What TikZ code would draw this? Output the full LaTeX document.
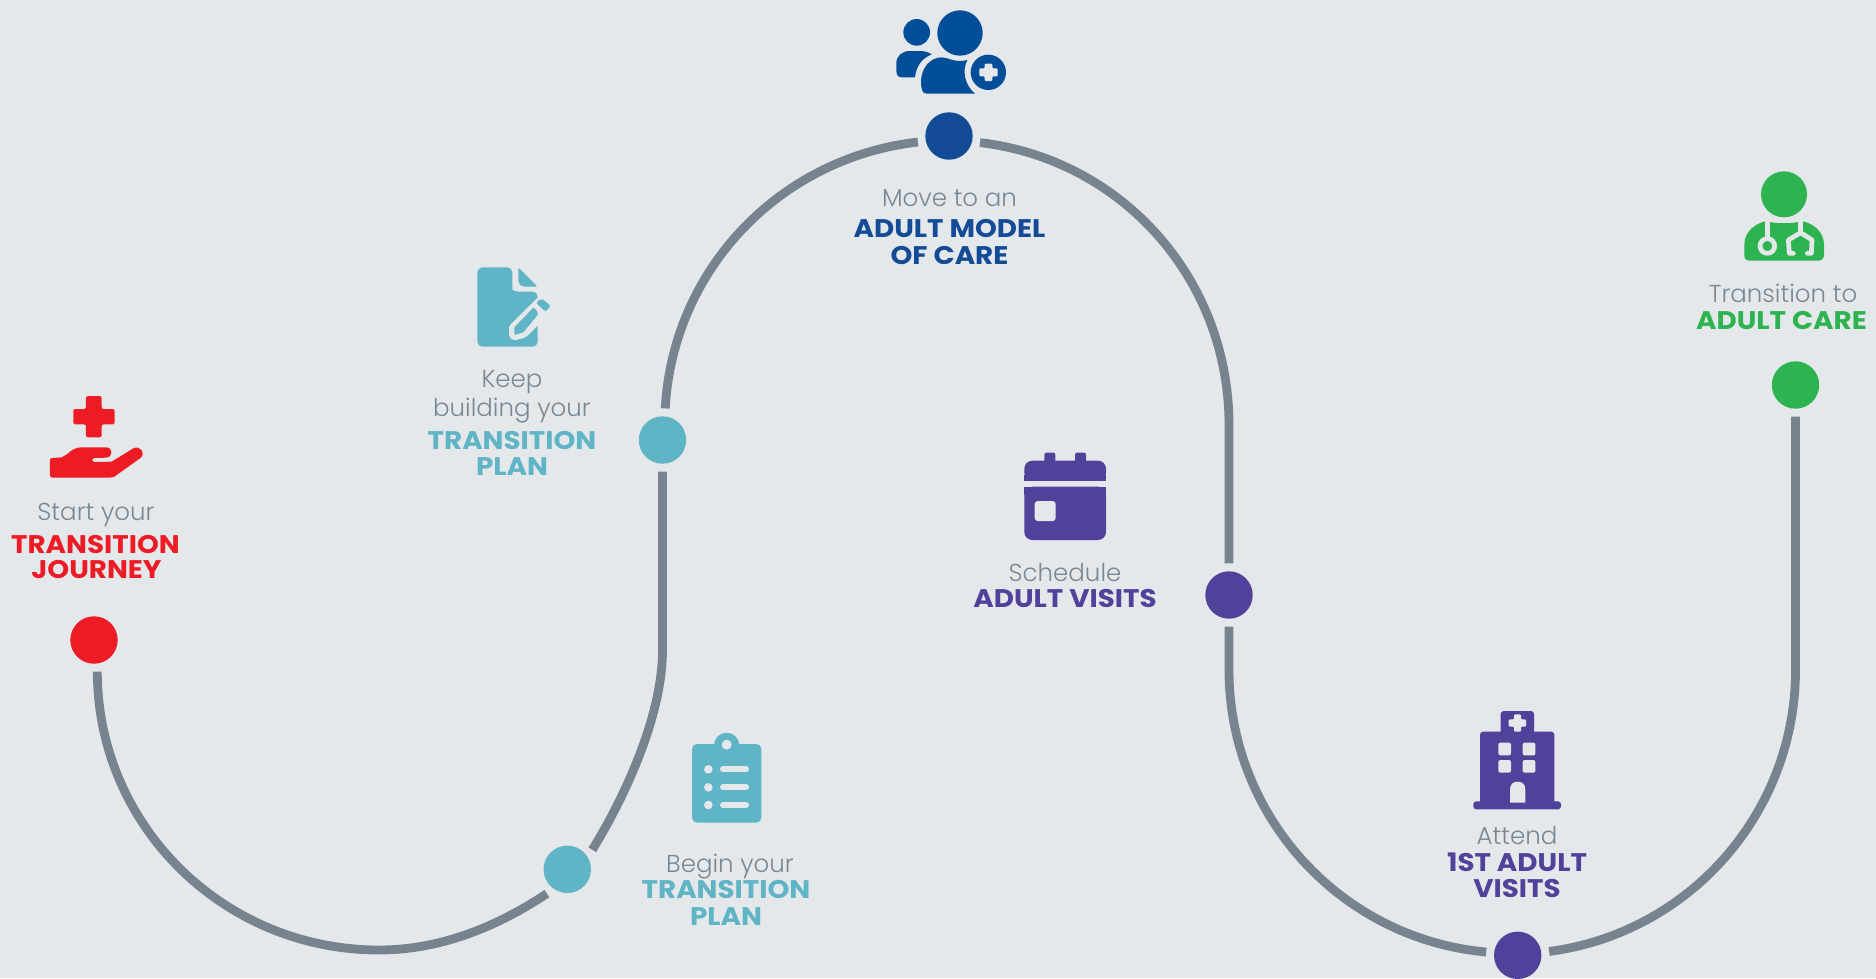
\documentclass[tikz,border=0pt]{standalone}
\usepackage{fontspec}
\newfontfamily\lightf{Poppins Light}
\newfontfamily\boldf{Poppins Bold}[FakeStretch=1.09]
\definecolor{bgc}{HTML}{E4E8EB}
\definecolor{trackc}{HTML}{77848F}
\definecolor{greyt}{HTML}{7A8894}
\definecolor{redc}{HTML}{ED1C24}
\definecolor{tealc}{HTML}{5FB4C6}
\definecolor{bluec}{HTML}{134B97}
\definecolor{iconblue}{HTML}{024E98}
\definecolor{purplec}{HTML}{52419A}
\definecolor{greenc}{HTML}{2DB34F}
\tikzset{
  x=1pt,y=1pt,
  dot/.style={circle,minimum size=47.4pt,inner sep=0pt,outer sep=8pt,fill=#1},
  track/.style={draw=trackc,line width=8.8pt},
  lead/.style={anchor=base,text=greyt,inner sep=0pt,font=\lightf\fontsize{24.5}{24.5}\selectfont},
  head/.style={anchor=base,text=#1,inner sep=0pt,font=\boldf\fontsize{25.5}{25.5}\selectfont},
  zoomed/.style 2 args={shift={(#1pt,-#2pt)},x=0.33333pt,y=-0.33333pt}
}
\begin{document}
\begin{tikzpicture}
\useasboundingbox (0,0) rectangle (1876,-978);
\fill[bgc] (0,0) rectangle (1876,-978);
% dots
\node[dot=redc] (red) at (94,-640) {};
\node[dot=tealc] (teala) at (567.3,-869.3) {};
\node[dot=tealc] (tealb) at (662.5,-440) {};
\node[dot=bluec] (blue) at (949,-136) {};
\node[dot=purplec] (purpa) at (1229,-595) {};
\node[dot=purplec] (purpb) at (1517.7,-955.3) {};
\node[dot=greenc] (green) at (1795.5,-385) {};
% waypoints
\coordinate (wa) at (379,-950);
\coordinate (wb) at (662.5,-650);
\coordinate (wc) at (1229,-425);
\coordinate (wd) at (1229,-670);
\coordinate (we) at (1795.5,-670);
% connectors
\draw[track] (red.276) .. controls (97.5,-825.5) and (223.5,-950) .. (wa)
  .. controls (440,-950) and (496.7,-927) .. (teala.230);
\draw[track] (teala.38.7) .. controls (620,-805) and (662.5,-720) .. (wb) -- (tealb.south);
\draw[track] (tealb.85.5) .. controls (672.8,-269.4) and (780,-157.7) .. (blue.191);
\draw[track] (blue.348.5) .. controls (1122.8,-159.5) and (1229,-279.7) .. (wc) -- (purpa.north);
\draw[track] (purpa.south) -- (wd) .. controls (1229,-816) and (1340.6,-938.8) .. (purpb.174.6);
\draw[track] (purpb.7.4) .. controls (1690,-932.9) and (1795.5,-812.5) .. (we) -- (green.south);
% labels
\node[lead] (l1a) at (96,-520) {Start your};
\node[head=redc] (l1b) at (95.5,-553) {TRANSITION};
\node[head=redc] (l1c) at (96.5,-578) {JOURNEY};
\node[lead] (l2a) at (730,-872) {Begin your};
\node[head=tealc] (l2b) at (726,-898) {TRANSITION};
\node[head=tealc] (l2c) at (726,-925) {PLAN};
\node[lead] (l3a) at (512,-387) {Keep};
\node[lead] (l3b) at (512,-416) {building your};
\node[head=tealc] (l3c) at (512,-449) {TRANSITION};
\node[head=tealc] (l3d) at (512,-475) {PLAN};
\node[lead] (l4a) at (949.5,-206) {Move to an};
\node[head=bluec] (l4b) at (949.5,-237) {ADULT MODEL};
\node[head=bluec] (l4c) at (949.5,-264) {OF CARE};
\node[lead] (l5a) at (1065,-581.5) {Schedule};
\node[head=purplec] (l5b) at (1065,-607) {ADULT VISITS};
\node[lead] (l6a) at (1517,-844) {Attend};
\node[head=purplec] (l6b) at (1517,-871.5) {1ST ADULT};
\node[head=purplec] (l6c) at (1517,-897.5) {VISITS};
\node[lead] (l7a) at (1783,-302) {Transition to};
\node[head=greenc] (l7b) at (1781.5,-329) {ADULT CARE};
% hand icon
\begin{scope}[zoomed={0}{380},fill=redc]
\fill[rounded corners=2pt] (258,48) -- (305,48) -- (305,87) -- (344,87) -- (344,133) -- (305,133) -- (305,172) -- (258,172) -- (258,133) -- (220,133) -- (220,87) -- (258,87) -- cycle;
\fill (150,240) .. controls (150,236) and (152,234) .. (158,234) -- (185,232) .. controls (205,225) and (215,202) .. (245,202) -- (318,202) .. controls (340,202) and (340,232) .. (318,233) -- (285,234) .. controls (272,236) and (276,246) .. (285,246) -- (335,245) -- (400,205) .. controls (420,195) and (440,220) .. (420,235) -- (350,285) .. controls (345,290) and (340,293) .. (330,293) -- (158,293) .. controls (152,293) and (150,290) .. (150,285) -- cycle;
\end{scope}
% people icon
\begin{scope}[zoomed={880}{0}]
\fill[iconblue] (240,99) circle[radius=68];
\fill[iconblue] (110,97) circle[radius=40];
\fill[iconblue] (325,217) circle[radius=53];
\fill[bgc,rounded corners=1pt] (314,191) -- (337,191) -- (337,205) -- (353,205) -- (353,229) -- (337,229) -- (337,243) -- (314,243) -- (314,229) -- (298,229) -- (298,205) -- (314,205) -- cycle;
\fill[iconblue] (140,281) .. controls (128,281) and (123,270) .. (123,245) .. controls (123,205) and (150,172) .. (185,172) .. controls (205,172) and (225,190) .. (262,180) .. controls (245,215) and (255,255) .. (285,281) -- cycle;
\fill[iconblue] (65,232) .. controls (55,232) and (49,225) .. (49,212) -- (49,190) .. controls (49,168) and (65,153) .. (90,153) -- (120,153) .. controls (135,153) and (148,158) .. (155,163) .. controls (125,175) and (108,200) .. (105,232) -- cycle;
\end{scope}
% document icon
\begin{scope}[zoomed={460}{250}]
\fill[tealc,rounded corners=5pt] (52,52) -- (157,52) -- (157,105) [sharp corners] .. controls (157,118) and (165,125) .. (177,125) [rounded corners=5pt] -- (233,125) -- (233,290) -- (52,290) -- cycle;
\fill[tealc,rounded corners=2pt] (175,52) -- (233,110) -- (188,110) -- (175,100) -- cycle;
\fill[bgc,rounded corners=2pt] (147,228) -- (233,143) -- (240,140) -- (280,180) -- (198,262) -- (160,272) -- (147,260) -- cycle;
\fill[tealc,rounded corners=1pt] (163,232) -- (221,172) -- (233,186) -- (233,195) -- (190,247) -- (163,255) -- cycle;
\fill[tealc,rounded corners=2pt] (228,158) -- (245,145) -- (272,168) -- (256,185) -- cycle;
\end{scope}
% clipboard icon
\begin{scope}[zoomed={670}{720}]
\fill[tealc] (170,76) circle[radius=38];
\fill[tealc,rounded corners=5pt] (66,72) rectangle (274,308);
\fill[bgc] (170,74) circle[radius=15];
\foreach \yy in {148,202,255}{
  \fill[bgc] (115,\yy) circle[radius=13];
  \draw[bgc,line width=6pt,line cap=round] (159,\yy) -- (228,\yy);
}
\end{scope}
% calendar icon
\begin{scope}[zoomed={1010}{440}]
\fill[purplec,rounded corners=2pt] (103,70) -- (103,38) -- (136,38) -- (136,70) -- cycle;
\fill[purplec,rounded corners=2pt] (195,70) -- (195,38) -- (228,38) -- (228,70) -- cycle;
\fill[purplec,rounded corners=8pt] (43,122) -- (43,62) -- (288,62) -- (288,122) -- cycle;
\fill[purplec] (43,105) rectangle (288,122);
\fill[purplec,rounded corners=8pt] (43,300) -- (43,140) -- (288,140) -- (288,300) -- cycle;
\fill[purplec] (43,140) rectangle (288,165);
\fill[bgc,rounded corners=3pt] (74,183) rectangle (137,243);
\end{scope}
% hospital icon
\begin{scope}[zoomed={1460}{700}]
\fill[purplec,rounded corners=3pt] (122,110) -- (122,33) -- (222,33) -- (222,110) -- cycle;
\fill[purplec,rounded corners=3pt] (60,315) -- (60,95) -- (283,95) -- (283,315) -- cycle;
\fill[purplec,rounded corners=3pt] (40,328) -- (40,304) -- (303,304) -- (303,328) -- cycle;
\fill[bgc,rounded corners=1pt] (162,43) -- (183,43) -- (183,58) -- (198,58) -- (198,80) -- (183,80) -- (183,95) -- (162,95) -- (162,80) -- (146,80) -- (146,58) -- (162,58) -- cycle;
\foreach \xx/\yy in {115/128,188/128,115/180,188/180}{
  \fill[bgc,rounded corners=2pt] (\xx,\yy) rectangle ++(38,38);
}
\fill[bgc] (150,308) -- (150,268) .. controls (150,252) and (160,245) .. (173,245) .. controls (186,245) and (196,252) .. (196,268) -- (196,308) -- cycle;
\end{scope}
% doctor icon
\begin{scope}[zoomed={1730}{160}]
\fill[greenc] (162,103) circle[radius=69];
\fill[greenc] (60,302) .. controls (48,302) and (43,297) .. (43,285) -- (43,255) .. controls (43,215) and (75,190) .. (110,183) .. controls (130,192) and (195,192) .. (215,183) .. controls (250,190) and (282,215) .. (282,255) -- (282,285) .. controls (282,295) and (275,302) .. (265,302) -- cycle;
\draw[bgc,line width=4.7pt] (112,180) -- (112,235);
\draw[bgc,line width=4.7pt] (112,258) circle[radius=22];
\draw[bgc,line width=4.7pt,line join=round,line cap=round] (212,180) -- (212,218);
\draw[bgc,line width=4.7pt,line join=round,line cap=round] (190,280) -- (178,280) -- (175,240) -- (212,218) -- (246,240) -- (244,280) -- (232,280);
\end{scope}
\end{tikzpicture}
\end{document}
